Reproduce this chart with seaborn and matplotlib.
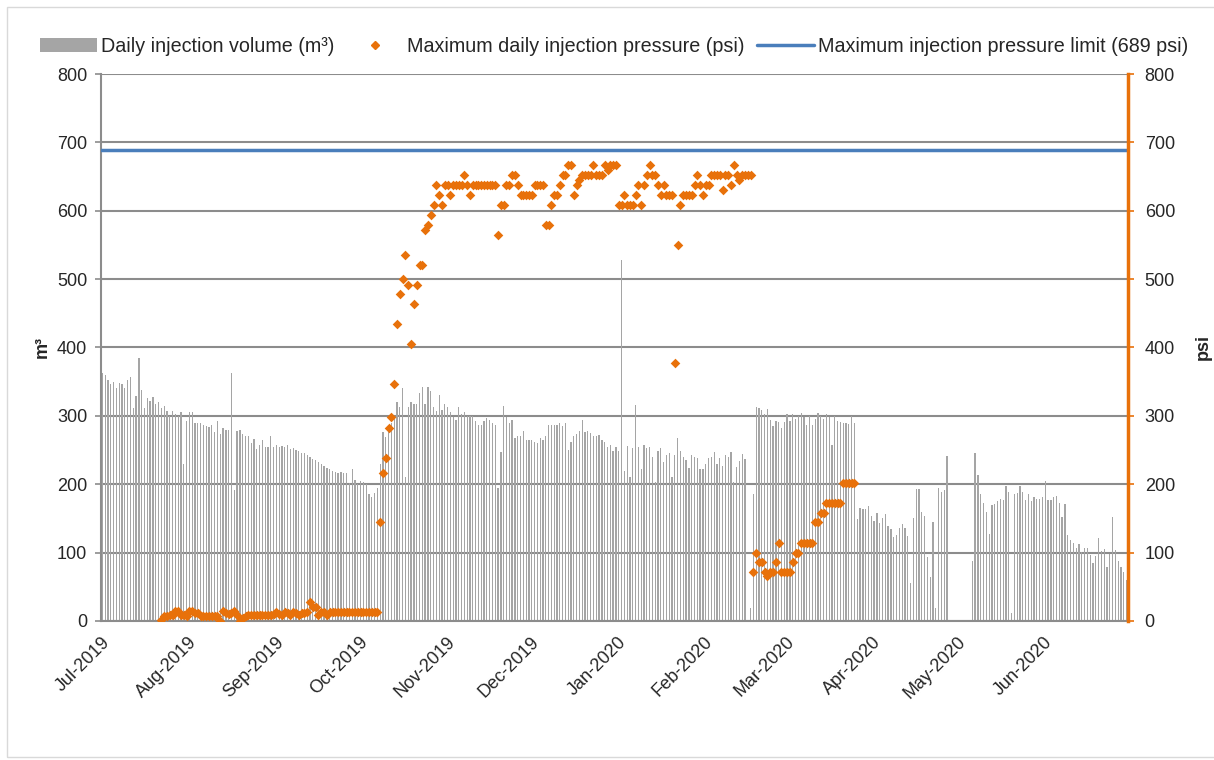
import numpy as np
import pandas as pd
import matplotlib
matplotlib.use("Agg")
import matplotlib.pyplot as plt
import seaborn as sns
from matplotlib.patches import Patch, Rectangle
from matplotlib.lines import Line2D

# month labels and lengths (Jul 2019 .. Jun 2020, leap Feb)
months = ["Jul-2019", "Aug-2019", "Sep-2019", "Oct-2019", "Nov-2019", "Dec-2019",
          "Jan-2020", "Feb-2020", "Mar-2020", "Apr-2020", "May-2020", "Jun-2020"]
month_days = [31, 31, 30, 31, 30, 31, 31, 29, 31, 30, 31, 30]

# daily injection volume (m3), one value per day
vol_jul = [362, 360, 352, 347, 350, 341, 348, 346, 341, 352, 357, 312, 329, 385, 338, 312,
           326, 322, 327, 318, 320, 311, 314, 307, 300, 307, 303, 300, 305, 230, 293]
vol_aug = [306, 305, 290, 289, 290, 287, 285, 283, 287, 276, 292, 274, 282, 279, 280, 362,
           192, 278, 280, 273, 270, 270, 260, 266, 251, 257, 265, 255, 254, 271, 254]
vol_sep = [258, 255, 256, 255, 257, 252, 253, 250, 248, 246, 245, 243, 240, 237, 235,
           232, 229, 227, 224, 222, 220, 218, 216, 218, 217, 216, 202, 222, 206, 201]
vol_oct = [204, 203, 200, 185, 181, 187, 194, 230, 276, 269, 280, 289, 300, 320, 313, 341,
           211, 313, 320, 318, 318, 333, 342, 318, 342, 337, 313, 307, 330, 309, 318]
vol_nov = [313, 305, 298, 294, 313, 302, 305, 300, 300, 300, 292, 286, 286, 292, 297,
           294, 290, 286, 194, 247, 314, 298, 290, 294, 268, 271, 271, 278, 264, 264]
vol_dec = [264, 262, 260, 268, 265, 270, 287, 287, 287, 287, 290, 285, 289, 250, 262, 270,
           273, 278, 294, 276, 278, 275, 270, 270, 272, 265, 262, 255, 258, 248, 255]
vol_jan = [248, 528, 219, 256, 211, 253, 316, 254, 222, 257, 253, 254, 240, 203, 249, 253,
           233, 242, 245, 211, 243, 268, 248, 240, 236, 223, 242, 240, 238, 222, 222]
vol_feb = [230, 238, 240, 247, 229, 238, 227, 243, 240, 247, 203, 225, 234, 244, 237,
           0, 19, 186, 313, 311, 308, 302, 310, 294, 285, 293, 291, 282, 291]
vol_mar = [303, 292, 303, 296, 300, 304, 298, 287, 300, 287, 295, 304, 300, 295, 303, 298,
           257, 300, 293, 291, 289, 289, 288, 300, 290, 149, 165, 164, 164, 168, 153]
vol_apr = [146, 158, 143, 151, 157, 139, 134, 123, 126, 136, 142, 136, 124, 55, 151,
           193, 193, 160, 153, 93, 64, 145, 19, 194, 189, 192, 241, 0, 0, 0]
vol_may = [0, 0, 0, 0, 0, 87, 246, 213, 186, 173, 160, 127, 170, 171, 176, 179,
           177, 197, 189, 11, 186, 187, 198, 189, 177, 185, 176, 181, 179, 179, 181]
vol_jun = [205, 177, 177, 181, 183, 173, 152, 171, 126, 119, 114, 106, 113, 101, 106,
           107, 96, 84, 95, 121, 103, 105, 79, 98, 152, 104, 87, 79, 72, 60]

# maximum daily injection pressure (psi); nan = no reading
n = np.nan
pres_jul = [n] * 21 + [2, 7, 7, 8, 8, 15, 14, 9, 8, 7]
pres_aug = [14, 15, 12, 12, 7, 7, 7, 7, 7, 7, 7, 0, 15, 12, 10, 12, 15, 9, 0, 5,
            7, 9, 9, 9, 9, 9, 9, 9, 9, 9, 10]
pres_sep = [13, 10, 8, 13, 11, 9, 13, 11, 8, 11, 12, 13, 28, 21, 21, 9, 13, 13, 9,
            13, 13, 13, 13, 13, 13, 13, 13, 13, 13, 13]
pres_oct = [13, 13, 13, 13, 13, 13, 13, 144, 217, 238, 282, 299, 347, 434, 478, 500,
            535, 492, 405, 463, 492, 520, 520, 572, 579, 594, 608, 637, 623, 608, 637]
pres_nov = [637, 623, 637, 637, 637, 637, 652, 637, 623, 637, 637, 637, 637, 637, 637,
            637, 637, 637, 564, 608, 608, 637, 637, 652, 652, 637, 623, 623, 623, 623]
pres_dec = [623, 637, 637, 637, 637, 579, 579, 608, 623, 623, 637, 652, 652, 667, 667,
            623, 637, 645, 652, 652, 652, 652, 667, 652, 652, 652, 667, 660, 667, 667, 667]
pres_jan = [608, 608, 623, 608, 608, 608, 623, 637, 608, 637, 652, 667, 652, 652, 637,
            623, 637, 623, 623, 623, 377, 550, 608, 623, 623, 623, 623, 637, 652, 637, 623]
pres_feb = [637, 637, 652, 652, 652, 652, 630, 652, 652, 637, 667, 652, 645, 652, 652,
            652, 652, 71, 100, 86, 86, 71, 65, 71, 71, 86, 114, 71, 71]
pres_mar = [71, 71, 86, 100, 100, 114, 114, 114, 114, 114, 144, 144, 158, 158,
            173, 173, 173, 173, 173, 173, 202, 202, 202, 202, 202] + [n] * 6
pres_apr = [n] * 30
pres_may = [n] * 31
pres_jun = [n] * 30

pressure_limit = 689

volume = (vol_jul + vol_aug + vol_sep + vol_oct + vol_nov + vol_dec +
          vol_jan + vol_feb + vol_mar + vol_apr + vol_may + vol_jun)
pressure = (pres_jul + pres_aug + pres_sep + pres_oct + pres_nov + pres_dec +
            pres_jan + pres_feb + pres_mar + pres_apr + pres_may + pres_jun)
days = np.arange(sum(month_days))
df = pd.DataFrame({"day": days, "volume": volume, "pressure": pressure})

grey = "#A5A5A5"
orange = "#E8710A"
blue = "#4A7EBB"
axis_grey = "#8C8C8C"

sns.set_theme(style="white")
plt.rcParams["font.family"] = ["Liberation Sans", "DejaVu Sans"]

fig, ax = plt.subplots(figsize=(12.14, 7.6), dpi=100)
fig.subplots_adjust(left=0.0832, right=0.9292, bottom=0.183, top=0.9026)

# thin daily bars, no edge so they don't get eaten by white outlines
sns.barplot(data=df, x="day", y="volume", order=days, color=grey, saturation=1,
            width=0.45, errorbar=None, linewidth=0, edgecolor="none", ax=ax)

ax2 = ax.twinx()
sns.scatterplot(data=df, x="day", y="pressure", marker="D", s=24, color=orange,
                edgecolor=orange, linewidth=0, legend=False, ax=ax2, zorder=3)
ax2.axhline(pressure_limit, color=blue, lw=2.5, zorder=2)

for a in (ax, ax2):
    a.set_ylim(0, 800)
    a.set_yticks(range(0, 801, 100))
    a.tick_params(axis="y", labelsize=13)
ax.set_xlim(-0.5, len(days) - 0.5)

month_start = np.cumsum([0] + month_days) - 0.5
ax.set_xticks(month_start)
ax.set_xticklabels(months + [""], rotation=45, ha="right", rotation_mode="anchor", fontsize=13)
ax.tick_params(axis="x", length=5, width=1.2, color=axis_grey, pad=4)
ax.tick_params(axis="y", length=4, width=1.2, color=axis_grey, pad=6)
ax2.tick_params(axis="y", length=4, width=1.2, color=orange, pad=8)

ax.yaxis.grid(True, color=axis_grey, lw=1.5)
ax.set_axisbelow(True)

ax.set_xlabel("")
ax.set_ylabel("m³", fontsize=13, fontweight="bold", labelpad=4)
ax2.set_ylabel("psi", fontsize=13, fontweight="bold", labelpad=14)

ax.spines["top"].set_visible(False)
ax.spines["right"].set_visible(False)
for s in ("left", "bottom"):
    ax.spines[s].set_color(axis_grey)
    ax.spines[s].set_linewidth(1.5)
for s in ("left", "bottom", "top"):
    ax2.spines[s].set_visible(False)
ax2.spines["right"].set_color(orange)
ax2.spines["right"].set_linewidth(2.5)

handles = [Patch(facecolor=grey, edgecolor="none"),
           Line2D([], [], marker="D", ls="none", color=orange, markersize=4),
           Line2D([], [], color=blue, lw=2.5)]
labels = ["Daily injection volume (m³)", "Maximum daily injection pressure (psi)",
          "Maximum injection pressure limit (689 psi)"]
fig.legend(handles, labels, ncol=3, frameon=False, loc="center",
           bbox_to_anchor=(614 / 1214, 1 - 46 / 760), fontsize=14.2,
           handlelength=2.9, handletextpad=0.2, columnspacing=0.6)

fig.patches.append(Rectangle((0.0058, 0.004), 1.0, 0.987, transform=fig.transFigure,
                             fill=False, edgecolor="#D9D9D9", lw=1))

fig.savefig("out.png", dpi=100)
